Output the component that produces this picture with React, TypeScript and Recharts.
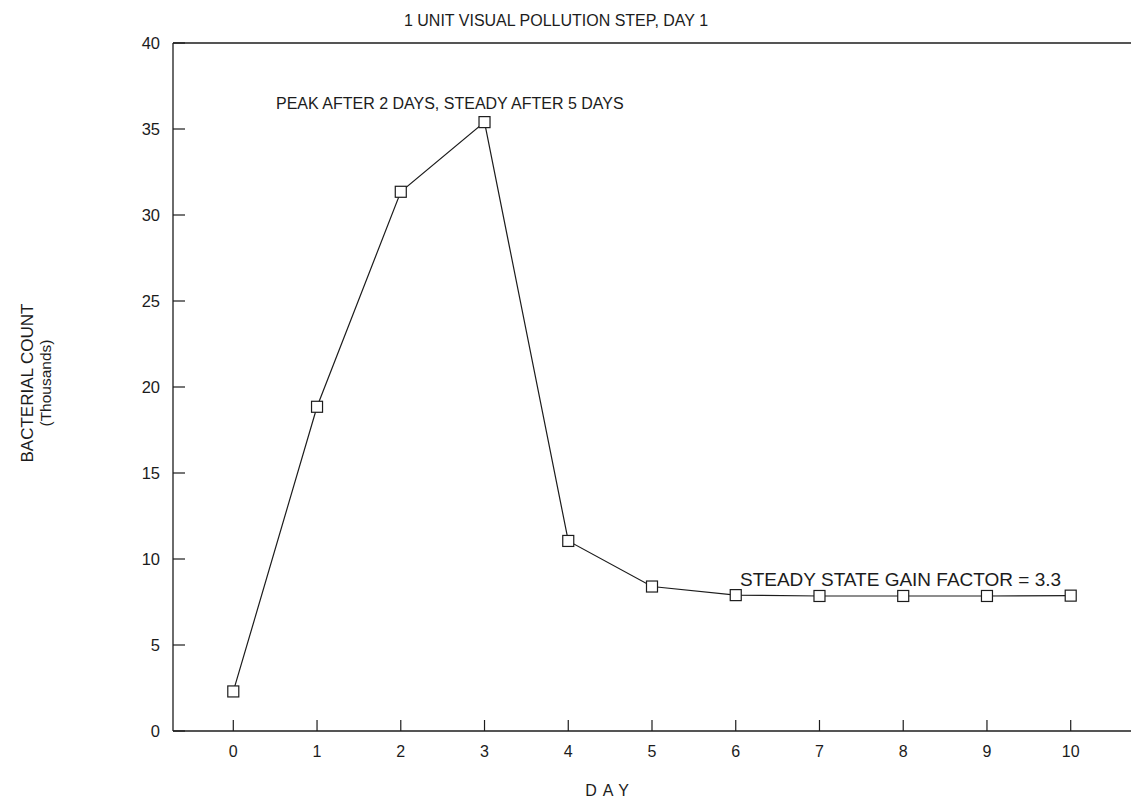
import { LineChart, Line, XAxis, YAxis, ReferenceLine } from 'recharts';

const days = [0, 1, 2, 3, 4, 5, 6, 7, 8, 9, 10];
const counts = [2.3, 18.85, 31.35, 35.4, 11.05, 8.4, 7.9, 7.85, 7.85, 7.85, 7.87];
const yTicks = [0, 5, 10, 15, 20, 25, 30, 35, 40];

const data = days.map((d, i) => ({ day: d, count: counts[i] }));

const FONT = '"Liberation Sans", Arial, Helvetica, sans-serif';
const INK = '#1c1c1c';

const YTick = (props: any) => {
  const { x, y, payload } = props;
  return (
    <g>
      <line x1={x} x2={x + 12} y1={y} y2={y} stroke={INK} strokeWidth={1.2} />
      <text x={x - 13} y={y} dy="0.36em" textAnchor="end" fontSize={16.5} fill={INK} fontFamily={FONT}>
        {payload.value}
      </text>
    </g>
  );
};

const XTick = (props: any) => {
  const { x, y, payload } = props;
  return (
    <g>
      <line x1={x} x2={x} y1={y} y2={y - 11} stroke={INK} strokeWidth={1.2} />
      <text x={x} y={y + 20} dy="0.36em" textAnchor="middle" fontSize={16} fill={INK} fontFamily={FONT}>
        {payload.value}
      </text>
    </g>
  );
};

const SquareDot = (props: any) => {
  const { cx, cy, index } = props;
  if (cx == null || cy == null) return null;
  return (
    <rect
      key={`sq-${index}`}
      x={cx - 5.5}
      y={cy - 5.5}
      width={11}
      height={11}
      fill="#fff"
      stroke={INK}
      strokeWidth={1.2}
    />
  );
};

export default function App() {
  return (
    <div style={{ position: 'absolute', left: 0, top: 0, width: 1131, height: 798, background: '#fff' }}>
      <LineChart
        width={1131}
        height={798}
        data={data}
        margin={{ top: 43, right: 0, left: 113, bottom: 37 }}
      >
        <XAxis
          dataKey="day"
          type="number"
          domain={[-0.72, 10.72]}
          ticks={days}
          tickSize={0}
          tickMargin={0}
          tick={<XTick />}
          axisLine={{ stroke: INK, strokeWidth: 1.3 }}
          tickLine={false}
          height={30}
        />
        <YAxis
          type="number"
          domain={[0, 40]}
          ticks={yTicks}
          tickSize={0}
          tickMargin={0}
          tick={<YTick />}
          axisLine={{ stroke: INK, strokeWidth: 1.3 }}
          tickLine={false}
          width={60}
        />
        <ReferenceLine y={40} stroke={INK} strokeWidth={1.3} />
        <Line
          type="linear"
          dataKey="count"
          stroke={INK}
          strokeWidth={1.2}
          dot={<SquareDot />}
          activeDot={false}
          isAnimationActive={false}
        />
      </LineChart>
      <svg
        width={1131}
        height={798}
        style={{ position: 'absolute', left: 0, top: 0, pointerEvents: 'none' }}
        fontFamily={FONT}
        fill={INK}
      >
        <text x={556} y={20} dy="0.36em" textAnchor="middle" fontSize={16}>
          1 UNIT VISUAL POLLUTION STEP, DAY 1
        </text>
        <text x={276} y={103} dy="0.36em" textAnchor="start" fontSize={16}>
          PEAK AFTER 2 DAYS, STEADY AFTER 5 DAYS
        </text>
        <text x={740} y={579} dy="0.36em" textAnchor="start" fontSize={19}>
          STEADY STATE GAIN FACTOR = 3.3
        </text>
        <text x={610} y={790} dy="0.36em" textAnchor="middle" fontSize={16} letterSpacing={6}>
          DAY
        </text>
        <text x={27} y={383} dy="0.36em" textAnchor="middle" fontSize={17} transform="rotate(-90 27 383)">
          BACTERIAL COUNT
        </text>
        <text x={45} y={383} dy="0.36em" textAnchor="middle" fontSize={15.5} transform="rotate(-90 45 383)">
          (Thousands)
        </text>
      </svg>
    </div>
  );
}
